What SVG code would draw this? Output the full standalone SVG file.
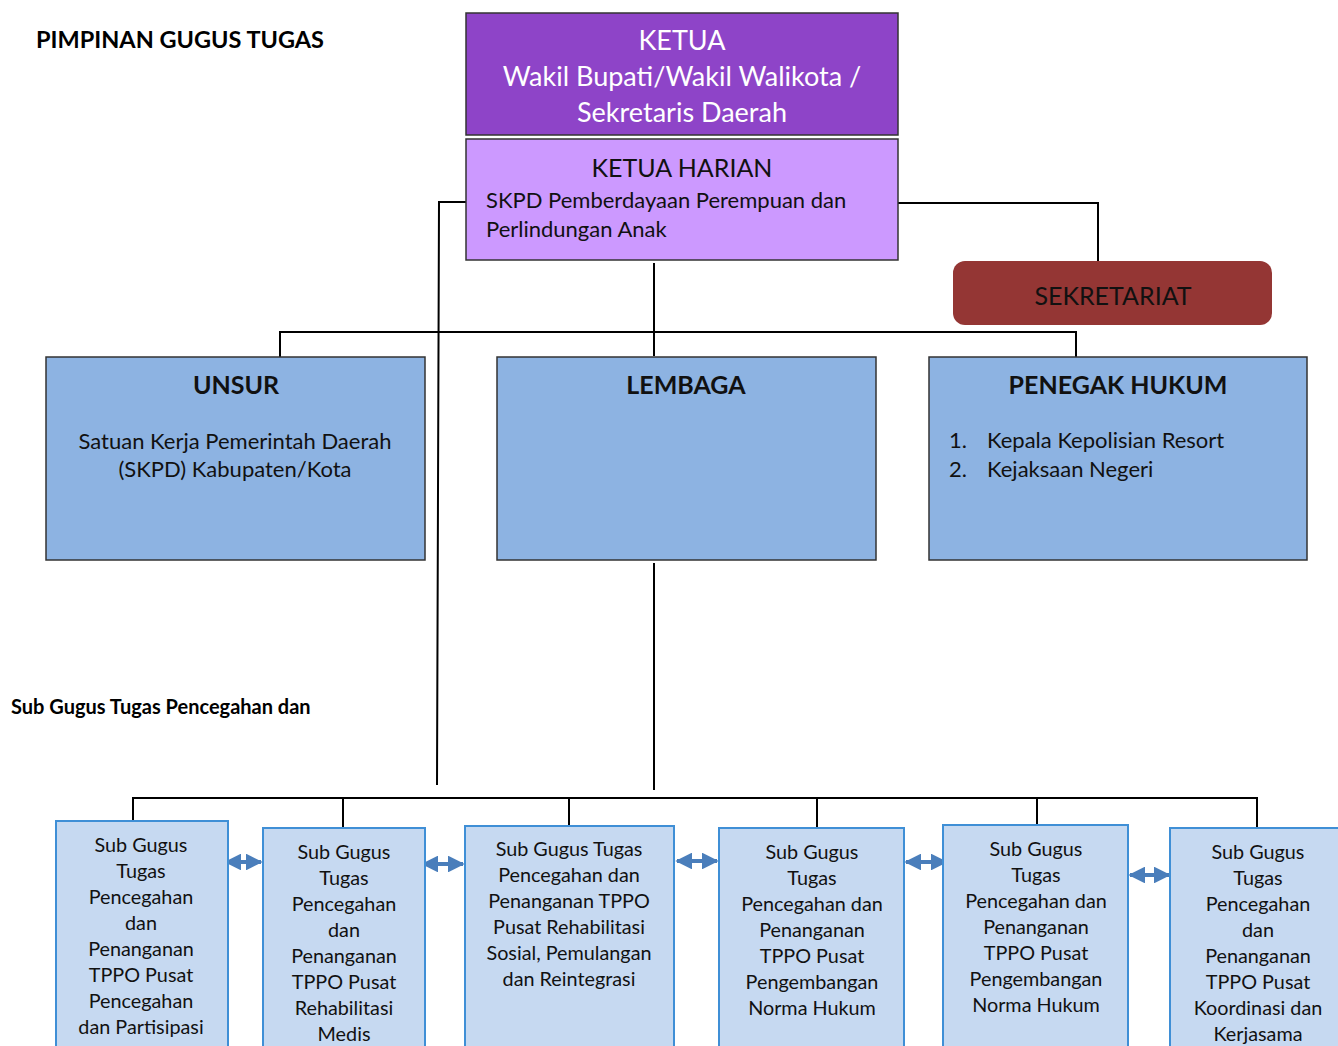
<svg xmlns="http://www.w3.org/2000/svg" width="1338" height="1046" viewBox="0 0 1338 1046">
  <defs>
    <style>
      text { font-family: Lato, "Open Sans", "Liberation Sans", sans-serif; }
      .title { font-size: 23.5px; font-weight: bold; fill: #000; }
      .ketua { fill: #8e44c8; stroke: #333; stroke-width: 1.5; }
      .harian { fill: #cc99ff; stroke: #333; stroke-width: 1.5; }
      .mid { fill: #8db3e2; stroke: #333; stroke-width: 1.5; }
      .sub { fill: #c6d9f1; stroke: #3f8fd6; stroke-width: 2; }
      .w26 { font-size: 27px; fill: #fff; text-anchor: middle; }
      .b26 { font-size: 25px; fill: #111; text-anchor: middle; }
      .hd { font-size: 25px; font-weight: bold; fill: #111; text-anchor: middle; }
      .t21 { font-size: 22px; fill: #111; }
      .c21 { font-size: 22px; fill: #111; text-anchor: middle; }
      .t19 { font-size: 19.8px; fill: #111; text-anchor: middle; }
      .ln { stroke: #000; stroke-width: 2; fill: none; }
      .dbl { stroke: #4a7ebb; stroke-width: 4; fill: none; marker-start: url(#ah); marker-end: url(#ah); }
    </style>
    <marker id="ah" viewBox="0 0 10 10" refX="9" refY="5" markerWidth="4.2" markerHeight="4.2" orient="auto-start-reverse" markerUnits="strokeWidth">
      <path d="M0,0 L10,5 L0,10 Z" fill="#4a7ebb"/>
    </marker>
  </defs>

  <text class="title" x="36" y="48">PIMPINAN GUGUS TUGAS</text>
  <text class="title" x="11" y="714" style="font-size:20px">Sub Gugus Tugas Pencegahan dan</text>

  <g id="connectors">
    <polyline class="ln" points="466,202 439,202 437,785"/>
    <polyline class="ln" points="898,203 1098,203 1098,262"/>
    <line class="ln" x1="654" y1="263" x2="654" y2="356"/>
    <polyline class="ln" points="280,357 280,332 1076,332 1076,357"/>
    <line class="ln" x1="654" y1="563" x2="654" y2="790"/>
    <line class="ln" x1="132" y1="798" x2="1258" y2="798"/>
    <line class="ln" x1="133" y1="798" x2="133" y2="822"/>
    <line class="ln" x1="343" y1="798" x2="343" y2="829"/>
    <line class="ln" x1="569" y1="798" x2="569" y2="826"/>
    <line class="ln" x1="817" y1="798" x2="817" y2="829"/>
    <line class="ln" x1="1037" y1="798" x2="1037" y2="826"/>
    <line class="ln" x1="1257" y1="798" x2="1257" y2="829"/>
    <line class="dbl" x1="226" y1="862" x2="261" y2="862"/>
    <line class="dbl" x1="423" y1="864" x2="463" y2="864"/>
    <line class="dbl" x1="677" y1="861" x2="717" y2="861"/>
    <line class="dbl" x1="906" y1="862" x2="946" y2="862"/>
    <line class="dbl" x1="1130" y1="875" x2="1169" y2="875"/>
  </g>

  <g id="ketua">
    <rect class="ketua" x="466" y="13" width="432" height="122"/>
    <text class="w26" x="682" y="50">KETUA</text>
    <text class="w26" x="682" y="86">Wakil Bupati/Wakil Walikota /</text>
    <text class="w26" x="682" y="122">Sekretaris Daerah</text>
  </g>

  <g id="ketua-harian">
    <rect class="harian" x="466" y="139" width="432" height="121"/>
    <text class="b26" x="682" y="177">KETUA HARIAN</text>
    <text class="t21" x="486" y="208">SKPD Pemberdayaan Perempuan dan</text>
    <text class="t21" x="486" y="237">Perlindungan Anak</text>
  </g>

  <g id="sekretariat">
    <rect x="953" y="261" width="319" height="64" rx="12" fill="#943634"/>
    <text class="b26" x="1113" y="305">SEKRETARIAT</text>
  </g>

  <g id="unsur">
    <rect class="mid" x="46" y="357" width="379" height="203"/>
    <text class="hd" x="236" y="394">UNSUR</text>
    <text class="c21" x="235" y="449">Satuan Kerja Pemerintah Daerah</text>
    <text class="c21" x="235" y="477">(SKPD) Kabupaten/Kota</text>
  </g>

  <g id="lembaga">
    <rect class="mid" x="497" y="357" width="379" height="203"/>
    <text class="hd" x="686" y="394">LEMBAGA</text>
  </g>

  <g id="penegak-hukum">
    <rect class="mid" x="929" y="357" width="378" height="203"/>
    <text class="hd" x="1118" y="394">PENEGAK HUKUM</text>
    <text class="t21" x="949" y="448">1.</text>
    <text class="t21" x="987" y="448">Kepala Kepolisian Resort</text>
    <text class="t21" x="949" y="477">2.</text>
    <text class="t21" x="987" y="477">Kejaksaan Negeri</text>
  </g>

  <g id="sub-pencegahan-partisipasi">
    <rect class="sub" x="56" y="821" width="172" height="240"/>
    <text class="t19" x="141" y="852">Sub Gugus</text>
    <text class="t19" x="141" y="878">Tugas</text>
    <text class="t19" x="141" y="904">Pencegahan</text>
    <text class="t19" x="141" y="930">dan</text>
    <text class="t19" x="141" y="956">Penanganan</text>
    <text class="t19" x="141" y="982">TPPO Pusat</text>
    <text class="t19" x="141" y="1008">Pencegahan</text>
    <text class="t19" x="141" y="1034">dan Partisipasi</text>
  </g>

  <g id="sub-rehabilitasi-medis">
    <rect class="sub" x="263" y="828" width="162" height="240"/>
    <text class="t19" x="344" y="859">Sub Gugus</text>
    <text class="t19" x="344" y="885">Tugas</text>
    <text class="t19" x="344" y="911">Pencegahan</text>
    <text class="t19" x="344" y="937">dan</text>
    <text class="t19" x="344" y="963">Penanganan</text>
    <text class="t19" x="344" y="989">TPPO Pusat</text>
    <text class="t19" x="344" y="1015">Rehabilitasi</text>
    <text class="t19" x="344" y="1041">Medis</text>
  </g>

  <g id="sub-rehabilitasi-sosial">
    <rect class="sub" x="465" y="826" width="209" height="240"/>
    <text class="t19" x="569" y="856">Sub Gugus Tugas</text>
    <text class="t19" x="569" y="882">Pencegahan dan</text>
    <text class="t19" x="569" y="908">Penanganan TPPO</text>
    <text class="t19" x="569" y="934">Pusat Rehabilitasi</text>
    <text class="t19" x="569" y="960">Sosial, Pemulangan</text>
    <text class="t19" x="569" y="986">dan Reintegrasi</text>
  </g>

  <g id="sub-norma-hukum-1">
    <rect class="sub" x="719" y="828" width="185" height="240"/>
    <text class="t19" x="812" y="859">Sub Gugus</text>
    <text class="t19" x="812" y="885">Tugas</text>
    <text class="t19" x="812" y="911">Pencegahan dan</text>
    <text class="t19" x="812" y="937">Penanganan</text>
    <text class="t19" x="812" y="963">TPPO Pusat</text>
    <text class="t19" x="812" y="989">Pengembangan</text>
    <text class="t19" x="812" y="1015">Norma Hukum</text>
  </g>

  <g id="sub-norma-hukum-2">
    <rect class="sub" x="943" y="825" width="185" height="240"/>
    <text class="t19" x="1036" y="856">Sub Gugus</text>
    <text class="t19" x="1036" y="882">Tugas</text>
    <text class="t19" x="1036" y="908">Pencegahan dan</text>
    <text class="t19" x="1036" y="934">Penanganan</text>
    <text class="t19" x="1036" y="960">TPPO Pusat</text>
    <text class="t19" x="1036" y="986">Pengembangan</text>
    <text class="t19" x="1036" y="1012">Norma Hukum</text>
  </g>

  <g id="sub-koordinasi">
    <rect class="sub" x="1170" y="828" width="180" height="240"/>
    <text class="t19" x="1258" y="859">Sub Gugus</text>
    <text class="t19" x="1258" y="885">Tugas</text>
    <text class="t19" x="1258" y="911">Pencegahan</text>
    <text class="t19" x="1258" y="937">dan</text>
    <text class="t19" x="1258" y="963">Penanganan</text>
    <text class="t19" x="1258" y="989">TPPO Pusat</text>
    <text class="t19" x="1258" y="1015">Koordinasi dan</text>
    <text class="t19" x="1258" y="1041">Kerjasama</text>
  </g>
</svg>
